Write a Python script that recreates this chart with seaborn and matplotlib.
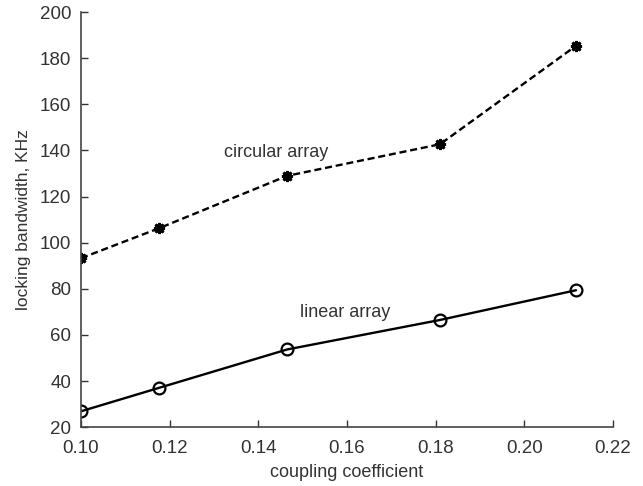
import matplotlib

matplotlib.use("Agg")
import matplotlib.pyplot as plt
import pandas as pd
import seaborn as sns

coupling = [0.100, 0.1175, 0.1465, 0.181, 0.2117]
circular_bw = [93.3, 106.2, 129.0, 142.7, 185.4]
linear_bw = [26.9, 37.0, 53.7, 66.5, 79.4]

df = pd.DataFrame(
    {
        "coupling": coupling * 2,
        "bandwidth": circular_bw + linear_bw,
        "array": ["circular array"] * len(coupling) + ["linear array"] * len(coupling),
    }
)

sns.set_theme(style="ticks")
plt.rcParams["font.family"] = ["Liberation Sans", "DejaVu Sans"]

fig = plt.figure(figsize=(6.43, 4.86), dpi=100)
ax = fig.add_axes([0.126, 0.121, 0.827, 0.854])

sns.lineplot(
    data=df[df["array"] == "circular array"],
    x="coupling", y="bandwidth", ax=ax, color="black",
    linestyle=(0, (3.0, 1.6)), linewidth=1.7, marker=(8, 2, 0), markersize=8,
    markeredgecolor="black", markeredgewidth=2.0,
)
sns.lineplot(
    data=df[df["array"] == "linear array"],
    x="coupling", y="bandwidth", ax=ax, color="black",
    linewidth=1.7, marker="o", markersize=8.5, markerfacecolor="none",
    markeredgecolor="black", markeredgewidth=1.6,
)

ax.text(0.1441, 139.3, "circular array", ha="center", va="center",
        fontsize=13, color="#333333")
ax.text(0.1596, 69.9, "linear array", ha="center", va="center",
        fontsize=13, color="#333333")

ax.set_xlim(0.10, 0.22)
ax.set_ylim(20, 200)
ax.set_xticks([0.10, 0.12, 0.14, 0.16, 0.18, 0.20, 0.22])
ax.set_xticklabels(["0.10", "0.12", "0.14", "0.16", "0.18", "0.20", "0.22"])
ax.set_yticks(range(20, 201, 20))
ax.set_xlabel("coupling coefficient", fontsize=13, color="#333333", labelpad=5)
ax.set_ylabel("locking bandwidth, KHz", fontsize=12.5, color="#333333", labelpad=6)
ax.tick_params(direction="in", length=5, width=1, labelsize=13.5,
               colors="#333333", pad=7)
ax.tick_params(axis="x", pad=9)
sns.despine(ax=ax)
for s in ["left", "bottom"]:
    ax.spines[s].set_color("#444444")
    ax.spines[s].set_linewidth(1.2)

fig.savefig("out.png", dpi=100)
plt.close(fig)
